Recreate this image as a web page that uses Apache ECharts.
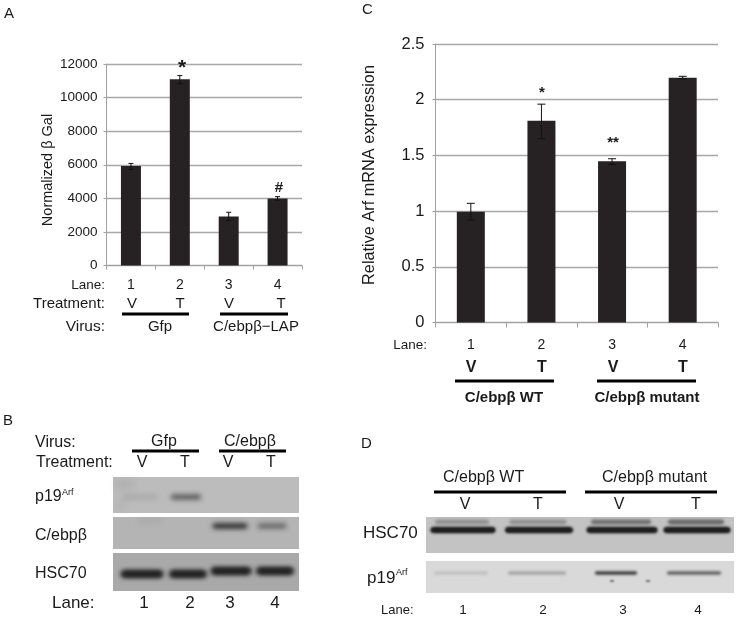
<!DOCTYPE html>
<html><head><meta charset="utf-8">
<style>html,body{margin:0;padding:0;background:#fff}#c{width:738px;height:619px}</style>
<script src="https://cdn.jsdelivr.net/npm/echarts@6/dist/echarts.min.js"></script>
</head><body><div id="c"></div>
<script>
// ---- data ----
const laneLabels = ['1','2','3','4'];
const betaGal = [5930, 11090, 2920, 3990];
const betaGalLow = [5720, 10830, 2680, 3880];
const betaGalHigh = [6080, 11310, 3170, 4100];
const arfMrna = [0.995, 1.81, 1.447, 2.198];
const arfMrnaLow = [0.92, 1.65, 1.42, 2.19];
const arfMrnaHigh = [1.07, 1.96, 1.47, 2.21];
// band darkness per lane, read from the blots (0 = none, 1 = black)
const blotBp19 = [0.12, 0.7, 0, 0];
const blotBCebp = [0.05, 0, 1, 0.6];
const blotBHsc = [1, 1, 1, 1];
const blotDHsc = [1, 1, 1, 1];
const blotDHscUpper = [0.35, 0.35, 0.55, 0.6];
const blotDp19 = [0.15, 0.35, 0.95, 0.75];

// ---- layout ----
const FONT = '"Liberation Sans", Arial, sans-serif';
const g = [];
function txt(x, y, s, size, o) {
  o = o || {};
  g.push({type:'text', x, y, rotation:o.rot||0, silent:true, z:50, style:{text:s, fill:o.fill||'#1a1a1a',
    font:(o.bold?'bold ':'')+size+'px '+FONT, textAlign:o.align||'left', textVerticalAlign:'middle'}});
}
function bar(x1, x2, y, h) {
  g.push({type:'rect', silent:true, z:50, shape:{x:x1, y:y-(h||3)/2, width:x2-x1, height:h||3}, style:{fill:'#000'}});
}
function panel(x, y, w, h, fill) {
  g.push({type:'rect', silent:true, z:10, shape:{x, y, width:w, height:h}, style:{fill}});
}
const OFF = 2000;
// soft blot band: only the blurred shadow of a shape parked off the canvas is visible
function band(cx, cy, w, h, v, blur, layers) {
  if (!v) return;
  const c = Math.round(30 + 60 * (1 - v));
  const col = 'rgba(' + c + ',' + c + ',' + c + ',' + Math.min(1, v + 0.05).toFixed(2) + ')';
  for (let k = 0; k < (layers || 1); k++) {
    g.push({type:'rect', silent:true, z:20, shape:{x:cx-w/2-OFF, y:cy-h/2, width:w, height:h, r:h/2},
      style:{fill:'#000', shadowBlur:blur==null?4:blur, shadowColor:col, shadowOffsetX:OFF}});
  }
}
function smudge(cx, cy, w, h, a) {
  g.push({type:'rect', silent:true, z:15, shape:{x:cx-w/2-OFF, y:cy-h/2, width:w, height:h, r:h/2},
    style:{fill:'#000', shadowBlur:9, shadowColor:'rgba(80,80,80,' + a + ')', shadowOffsetX:OFF}});
}

// Panel A text
txt(4, 14, 'A', 15);
txt(48, 170, 'Normalized β Gal', 14.5, {align:'center', rot:Math.PI/2});
txt(105, 285, 'Lane:', 13.5, {align:'right'});
txt(105, 304, 'Treatment:', 15, {align:'right'});
txt(105, 327, 'Virus:', 15.5, {align:'right'});
[[132,'V'],[180,'T'],[229,'V'],[281,'T']].forEach(d => txt(d[0], 304, d[1], 15, {align:'center'}));
bar(122, 189, 314); bar(220, 288, 314);
txt(160, 327, 'Gfp', 15, {align:'center'});
txt(256, 327, 'C/ebpβ−LAP', 15, {align:'center'});
txt(182, 68, '*', 21, {align:'center', bold:true});
txt(279, 188, '#', 15, {align:'center', bold:true});

// Panel C text
txt(362, 10, 'C', 15);
txt(370, 175, 'Relative Arf mRNA expression', 16.3, {align:'center', rot:Math.PI/2});
txt(427, 345, 'Lane:', 13.5, {align:'right'});
[[471,'V'],[542,'T'],[613,'V'],[683,'T']].forEach(d => txt(d[0], 368, d[1], 16, {align:'center', bold:true}));
bar(455, 554, 381); bar(597, 696, 381);
txt(504, 398, 'C/ebpβ WT', 15, {align:'center', bold:true});
txt(647, 398, 'C/ebpβ mutant', 15, {align:'center', bold:true});
txt(542, 93, '*', 15, {align:'center', bold:true});
txt(613, 143, '**', 15, {align:'center', bold:true});

// Panel B
txt(3, 421, 'B', 15);
txt(35, 443, 'Virus:', 16);
txt(36, 463, 'Treatment:', 16);
txt(164, 442, 'Gfp', 16, {align:'center'});
txt(250, 442, 'C/ebpβ', 16, {align:'center'});
bar(132, 199, 451); bar(219, 286, 451);
[[142,'V'],[185,'T'],[228,'V'],[271,'T']].forEach(d => txt(d[0], 463, d[1], 16, {align:'center'}));
panel(113, 477, 186, 36, '#bcbcbc');
panel(113, 517, 186, 32, '#b4b4b4');
panel(113, 553, 186, 38, '#a9a9a9');
smudge(124, 484, 18, 5, 0.22);
smudge(121, 506, 8, 3, 0.28);
const bp19X=[140,186,230,272], bp19W=[36,30,0,0];
blotBp19.forEach((v,i)=>band(bp19X[i],497,bp19W[i],5,v,5));
const bCebX=[150,190,230,272], bCebW=[24,0,35,29];
blotBCebp.forEach((v,i)=>band(bCebX[i],i===0?521:526,bCebW[i],5,v,5));
const bHscX=[142,188,231,275], bHscW=[41,36,39,36], bHscY=[574,574,571,571];
blotBHsc.forEach((v,i)=>band(bHscX[i],bHscY[i],bHscW[i],6,v,5,2));
txt(35, 497, 'p19', 16);
txt(62, 493, 'Arf', 9);
txt(35, 536, 'C/ebpβ', 16);
txt(35, 574, 'HSC70', 16);
txt(52, 603, 'Lane:', 17);
[144,190,230,275].forEach((x,i)=>txt(x, 603, laneLabels[i], 17, {align:'center'}));

// Panel D
txt(361, 444, 'D', 15);
txt(443, 478, 'C/ebpβ WT', 16);
txt(602, 478, 'C/ebpβ mutant', 16);
bar(434, 566, 492); bar(585, 717, 492);
[[465,'V'],[538,'T'],[619,'V'],[696,'T']].forEach(d => txt(d[0], 505, d[1], 16, {align:'center'}));
panel(426, 517, 308, 36, '#c3c3c3');
panel(426, 561, 308, 32, '#d9d9d9');
const dX=[463,539,622,697], dW=[64,67,70,66];
blotDHscUpper.forEach((v,i)=>band(dX[i]-1,522,dW[i]-10,5,v,3));
blotDHsc.forEach((v,i)=>band(dX[i],530,dW[i],5,v,3,2));
const dpX=[461,537,616,694], dpW=[54,58,42,54];
blotDp19.forEach((v,i)=>band(dpX[i],573,dpW[i],3,v,3));
band(612,581,4,1.5,0.8,2); band(648,581,4,1.5,0.8,2);
txt(363, 533, 'HSC70', 17);
txt(367, 578, 'p19', 17);
txt(396, 573, 'Arf', 9);
txt(381, 610, 'Lane:', 13);
[463,543,623,698].forEach((x,i)=>txt(x, 610, laneLabels[i], 13.5, {align:'center'}));

function errSeries(xi, yi, low, high, capw, col) {
  return {type:'custom', xAxisIndex:xi, yAxisIndex:yi, z:5, silent:true,
    data: low.map((v,i)=>[i, v, high[i]]),
    encode:{x:0, y:[1,2]},
    renderItem:(p, api)=>{
      const a = api.coord([api.value(0), api.value(1)]);
      const b = api.coord([api.value(0), api.value(2)]);
      const st = {stroke:col, lineWidth:1, fill:null};
      return {type:'group', children:[
        {type:'line', shape:{x1:a[0],y1:a[1],x2:b[0],y2:b[1]}, style:st},
        {type:'line', shape:{x1:a[0]-capw,y1:a[1],x2:a[0]+capw,y2:a[1]}, style:st},
        {type:'line', shape:{x1:a[0]-capw,y1:b[1],x2:a[0]+capw,y2:b[1]}, style:st}]};
    }};
}
const axLine = {lineStyle:{color:'#a0a0a0', width:1}};
const splitLine = {show:true, lineStyle:{color:'#a8a8a8', width:1.3}};
const plainNumber = v => String(v);
const option = {
  animation:false,
  backgroundColor:'#fff',
  textStyle:{fontFamily:FONT},
  grid:[
    {left:106.5, width:195.5, top:64, height:201.5},
    {left:435.5, width:282.5, top:44, height:278.5}
  ],
  xAxis:[
    {gridIndex:0, type:'category', data:laneLabels, axisLine:{show:true,...axLine}, axisTick:{show:true,length:4,...axLine,alignWithLabel:false},
     axisLabel:{fontSize:14, color:'#1a1a1a', margin:13, fontFamily:FONT}},
    {gridIndex:1, type:'category', data:laneLabels, axisLine:{show:true,...axLine}, axisTick:{show:true,length:5,...axLine},
     axisLabel:{fontSize:14, color:'#1a1a1a', margin:16, fontFamily:FONT}}
  ],
  yAxis:[
    {gridIndex:0, type:'value', min:0, max:12000, interval:2000, axisLine:{show:true,...axLine}, axisTick:{show:true,length:3,...axLine},
     splitLine, axisLabel:{fontSize:13.5, color:'#1a1a1a', margin:9, fontFamily:FONT, formatter:plainNumber}},
    {gridIndex:1, type:'value', min:0, max:2.5, interval:0.5, axisLine:{show:true,...axLine}, axisTick:{show:true,length:3,...axLine},
     splitLine, axisLabel:{fontSize:16.5, color:'#1a1a1a', margin:11, fontFamily:FONT}}
  ],
  series:[
    {type:'bar', xAxisIndex:0, yAxisIndex:0, data:betaGal, barWidth:20, silent:true, itemStyle:{color:'#262223'}},
    errSeries(0,0,betaGalLow,betaGalHigh,2.5,'#111'),
    {type:'bar', xAxisIndex:1, yAxisIndex:1, data:arfMrna, barWidth:28, silent:true, itemStyle:{color:'#262223'}},
    errSeries(1,1,arfMrnaLow,arfMrnaHigh,4,'#111')
  ],
  graphic:{elements:g}
};
echarts.init(document.getElementById('c'), null, {renderer:'canvas'}).setOption(option);
</script></body></html>
